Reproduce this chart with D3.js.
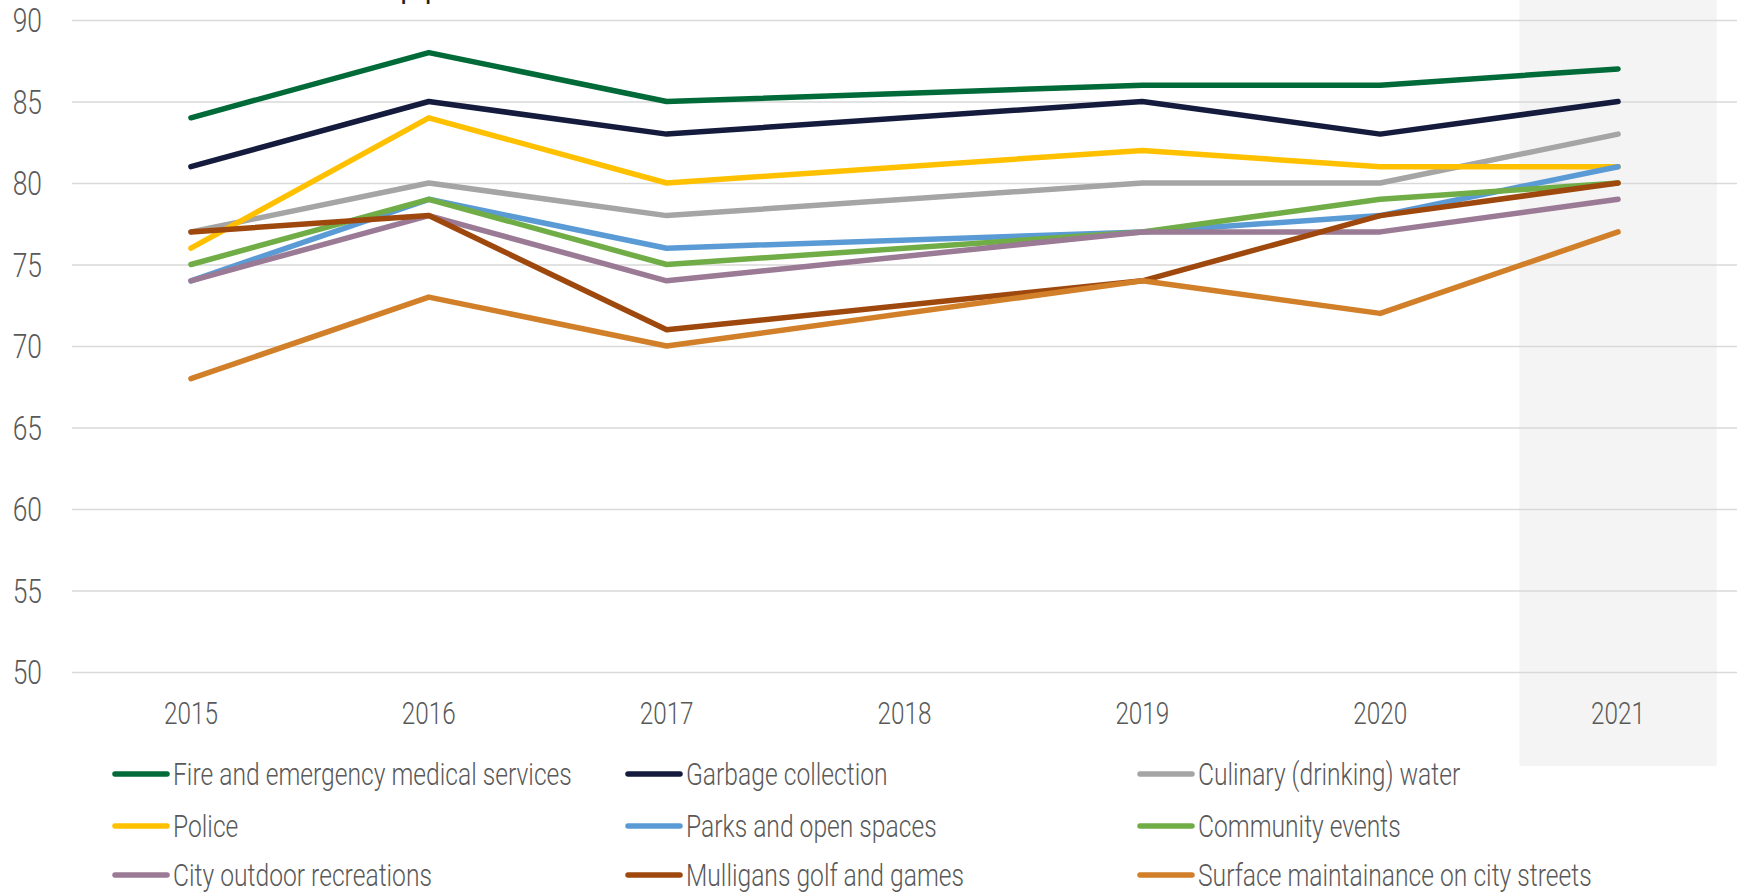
<!DOCTYPE html>
<meta charset="utf-8">
<style>
html,body {
  margin:0px;
  padding:0px;
  overflow:hidden;
  background-color:white;
}
text {
  font-family: Roboto, "Noto Sans", sans-serif;
  font-weight: 300;
  fill: #595959;
}
</style>
<body>
<svg></svg>
</body>
<script src="https://cdn.jsdelivr.net/npm/d3@7"></script>
<script>

var W = 1748, H = 895;
var SX = 0.76; // narrow look of the original font

// data, 2018 has no survey -> null, lines are joined over the gap
var years = ["2015","2016","2017","2018","2019","2020","2021"];
var yTicks = [50,55,60,65,70,75,80,85,90];
var series = ["Fire and emergency medical services","Garbage collection","Culinary (drinking) water",
  "Police","Parks and open spaces","Community events",
  "City outdoor recreations","Mulligans golf and games","Surface maintainance on city streets"];
var colors = ["#006a38","#141b3d","#a5a5a5","#ffc000","#5b9bd5","#70ad47","#9b7a95","#9e480e","#d17f28"];
var fire      = [84, 88, 85, null, 86, 86, 87];
var garbage   = [81, 85, 83, null, 85, 83, 85];
var culinary  = [77, 80, 78, null, 80, 80, 83];
var police    = [76, 84, 80, null, 82, 81, 81];
var parks     = [74, 79, 76, null, 77, 78, 81];
var community = [75, 79, 75, null, 77, 79, 80];
var outdoor   = [74, 78, 74, null, 77, 77, 79];
var mulligans = [77, 78, 71, null, 74, 78, 80];
var surface   = [68, 73, 70, null, 74, 72, 77];
var values = [fire, garbage, culinary, police, parks, community, outdoor, mulligans, surface];
var highlightYear = "2021";
var title = "Resident approval of services";

var svg = d3.select("svg").attr("width", W).attr("height", H);

var plotL = 72, plotR = 1737, plotT = 20, plotB = 672;

var x = d3.scaleBand().domain(years).range([plotL, plotR]);
var y = d3.scaleLinear().domain([50, 90]).range([plotB, plotT]);
var cx = function(d){ return x(d) + x.bandwidth()/2; };

// shaded latest year
var bw = x.bandwidth() * 0.83;
svg.append("rect")
  .attr("x", cx(highlightYear) - bw/2)
  .attr("y", 0)
  .attr("width", bw)
  .attr("height", 766)
  .attr("fill", "#f4f4f4");

// title, mostly above the page edge
var t = svg.append("text")
  .attr("y", -5)
  .attr("font-size", 44)
  .style("fill", "#222")
  .text(title);
var off = t.node().getStartPositionOfChar(title.indexOf("pp")).x;
t.attr("x", 399 - off);

// y axis + grid
var yAxis = svg.append("g")
  .attr("transform", "translate(" + plotL + ",0)")
  .call(d3.axisLeft(y).tickValues(yTicks).tickSize(-(plotR - plotL)));
yAxis.select(".domain").remove();
yAxis.selectAll(".tick line").attr("stroke", "#d9d9d9").attr("stroke-width", 1.5);
yAxis.selectAll(".tick text")
  .attr("x", 0)
  .attr("dy", "0.35em")
  .attr("text-anchor", "end")
  .attr("transform", "translate(-30,0) scale(0.8,1)")
  .attr("font-size", 33)
  .style("fill", "#595959");

// x axis
var xAxis = svg.append("g")
  .attr("transform", "translate(0,713)")
  .call(d3.axisBottom(x).tickSize(0));
xAxis.select(".domain").remove();
xAxis.selectAll(".tick text")
  .attr("y", 0)
  .attr("dy", "0.35em")
  .attr("transform", "scale(" + SX + ",1)")
  .attr("font-size", 32)
  .style("fill", "#595959");

// lines
var line = d3.line()
  .x(function(d){ return cx(d.year); })
  .y(function(d){ return y(d.v); });

values.forEach(function(vals, i) {
  var pts = years.map(function(yr, j){ return {year: yr, v: vals[j]}; })
    .filter(function(d){ return d.v != null; });
  svg.append("path")
    .datum(pts)
    .attr("d", line)
    .attr("fill", "none")
    .attr("stroke", colors[i])
    .attr("stroke-width", 5.5)
    .attr("stroke-linecap", "round")
    .attr("stroke-linejoin", "round");
});

// legend, 3 columns
var colX = [115, 628, 1140];
var rowY = [774, 826, 875];
series.forEach(function(name, i) {
  var gx = colX[i % 3], gy = rowY[Math.floor(i / 3)];
  var g = svg.append("g").attr("transform", "translate(" + gx + "," + gy + ")");
  g.append("line")
    .attr("x1", 0).attr("x2", 52)
    .attr("stroke", colors[i])
    .attr("stroke-width", 5.5)
    .attr("stroke-linecap", "round");
  g.append("text")
    .attr("x", 0)
    .attr("dy", "0.35em")
    .attr("transform", "translate(58,0) scale(0.795,1)")
    .attr("font-size", 31)
    .text(name);
});

</script>
